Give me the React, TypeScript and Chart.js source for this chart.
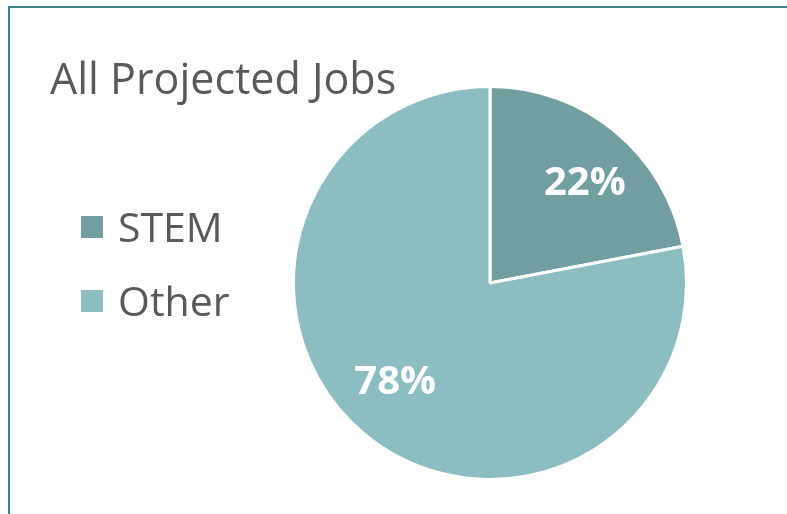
import React, { useEffect, useRef } from "react";
import { Chart, registerables } from "chart.js";

Chart.register(...registerables);

const categories = ["STEM", "Other"];
const values = [22, 78];
const valueLabels = ["22%", "78%"];
const sliceColors = ["#709EA1", "#8BBDC1"];
const chartTitle = "All Projected Jobs";

const FONT = "'Open Sans', 'DejaVu Sans', sans-serif";

const overlayPlugin = {
  id: "overlay",
  afterDatasetsDraw(chart: any) {
    const ctx = chart.ctx;
    const meta = chart.getDatasetMeta(0);
    ctx.save();
    ctx.fillStyle = "#FFFFFF";
    ctx.font = `bold 40px ${FONT}`;
    ctx.textAlign = "center";
    ctx.textBaseline = "middle";
    meta.data.forEach((arc: any, i: number) => {
      const p = arc.getProps(["startAngle", "endAngle", "outerRadius", "x", "y"], true);
      const mid = (p.startAngle + p.endAngle) / 2 + (4 * Math.PI) / 180;
      const r = p.outerRadius * 0.7;
      ctx.fillText(valueLabels[i], p.x + Math.cos(mid) * r, p.y + Math.sin(mid) * r);
    });
    ctx.restore();
  },
  afterDraw(chart: any) {
    const ctx = chart.ctx;
    ctx.save();
    ctx.fillStyle = "#595959";
    ctx.font = `43px ${FONT}`;
    ctx.textAlign = "left";
    ctx.textBaseline = "alphabetic";
    ctx.fillText(chartTitle, 50, 94);
    categories.forEach((c, i) => {
      const y = 216 + i * 74;
      ctx.fillStyle = sliceColors[i];
      ctx.fillRect(81, y, 22, 22);
      ctx.fillStyle = "#595959";
      ctx.font = `41px ${FONT}`;
      ctx.fillText(c, 118, y + 26);
    });
    ctx.restore();
  },
};

export default function App() {
  const ref = useRef<HTMLCanvasElement | null>(null);
  useEffect(() => {
    if (!ref.current) return;
    const chart = new Chart(ref.current, {
      type: "pie",
      data: {
        labels: categories,
        datasets: [
          {
            data: values,
            backgroundColor: sliceColors,
            borderColor: "#FFFFFF",
            borderWidth: 3,
          },
        ],
      },
      options: {
        animation: false,
        responsive: false,
        maintainAspectRatio: false,
        layout: { padding: { left: 292, right: 99, top: 85, bottom: 33 } },
        plugins: {
          legend: { display: false },
          title: { display: false },
          tooltip: { enabled: false },
        },
      },
      plugins: [overlayPlugin],
    });
    return () => chart.destroy();
  }, []);

  return (
    <div style={{ position: "fixed", left: 0, top: 0, width: 787, height: 514, background: "#FFFFFF", overflow: "hidden" }}>
      <div
        style={{
          position: "absolute",
          left: 8,
          top: 6,
          width: 800,
          height: 540,
          borderLeft: "2px solid #3D8288",
          borderTop: "2px solid #3D8288",
        }}
      />
      <canvas ref={ref} width={787} height={514} style={{ position: "absolute", left: 0, top: 0, width: 787, height: 514 }} />
    </div>
  );
}
